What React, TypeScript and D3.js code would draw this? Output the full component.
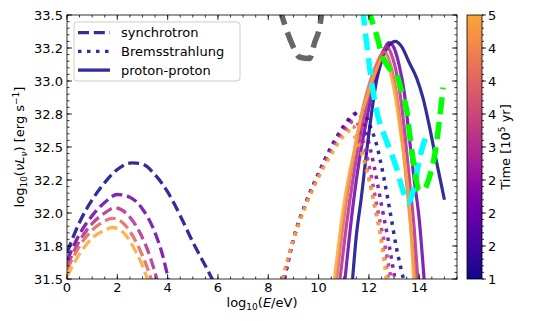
import React from 'react';
import * as d3 from 'd3';

// chart size
const W = 549;
const H = 321;
const plot = { left: 67, right: 457, top: 15, bottom: 279 };
const cbar = { x: 467, w: 15 };

// times of the snapshots [10^5 yr]
const times = [1, 2, 3, 4, 5];

// synchrotron, log10(E/eV) vs log10(nu L_nu)
const syncCurves: [number, number][][] = [
  [[0, 31.7], [0.5, 31.93], [1, 32.1], [1.5, 32.23], [2, 32.33], [2.6, 32.38], [3, 32.37], [3.5, 32.29], [4, 32.16], [4.5, 31.98], [5, 31.78], [5.5, 31.6], [5.85, 31.47]],
  [[0, 31.64], [0.5, 31.84], [1, 31.98], [1.5, 32.08], [2, 32.14], [2.5, 32.12], [3, 32.03], [3.5, 31.85], [3.8, 31.68], [4.05, 31.48]],
  [[0, 31.6], [0.5, 31.79], [1, 31.92], [1.5, 32.0], [1.9, 32.04], [2.4, 31.99], [2.9, 31.85], [3.3, 31.67], [3.6, 31.48]],
  [[0, 31.57], [0.5, 31.75], [1, 31.87], [1.5, 31.94], [1.8, 31.96], [2.3, 31.91], [2.8, 31.76], [3.2, 31.58], [3.4, 31.47]],
  [[0, 31.52], [0.5, 31.69], [1, 31.81], [1.5, 31.87], [1.8, 31.89], [2.3, 31.84], [2.7, 31.72], [3.0, 31.6], [3.25, 31.47]],
];

// Bremsstrahlung
const bremCurves: [number, number][][] = [
  [[8.65, 31.5], [9, 31.8], [9.5, 32.08], [10, 32.3], [10.5, 32.5], [11, 32.65], [11.4, 32.74], [11.75, 32.78], [12.0, 32.68], [12.3, 32.52], [12.6, 32.26], [12.85, 32.0], [13.1, 31.73], [13.4, 31.48]],
  [[8.62, 31.5], [9, 31.8], [9.5, 32.08], [10, 32.3], [10.5, 32.5], [11, 32.66], [11.4, 32.75], [11.6, 32.76], [11.9, 32.6], [12.2, 32.36], [12.5, 32.06], [12.8, 31.76], [13.05, 31.48]],
  [[8.6, 31.5], [9, 31.8], [9.5, 32.07], [10, 32.29], [10.5, 32.48], [11, 32.63], [11.45, 32.7], [11.75, 32.56], [12.05, 32.32], [12.35, 32.02], [12.65, 31.74], [12.9, 31.48]],
  [[8.58, 31.5], [9, 31.8], [9.5, 32.07], [10, 32.28], [10.5, 32.46], [11, 32.6], [11.35, 32.66], [11.65, 32.52], [12.0, 32.26], [12.3, 31.98], [12.6, 31.7], [12.8, 31.48]],
  [[8.55, 31.5], [9, 31.8], [9.5, 32.06], [10, 32.27], [10.5, 32.44], [10.9, 32.56], [11.25, 32.62], [11.5, 32.55], [11.76, 32.42], [12.0, 32.25], [12.2, 32.1], [12.4, 31.9], [12.55, 31.7], [12.7, 31.48]],
];

// proton-proton
const ppCurves: [number, number][][] = [
  [[11.35, 31.5], [11.5, 31.83], [11.7, 32.12], [11.9, 32.45], [12.1, 32.75], [12.3, 33.0], [12.5, 33.15], [12.8, 33.27], [13.05, 33.3], [13.3, 33.26], [13.6, 33.14], [13.9, 33.02], [14.15, 32.87], [14.4, 32.66], [14.65, 32.42], [14.85, 32.24], [15.0, 32.1]],
  [[11.05, 31.5], [11.3, 31.95], [11.6, 32.38], [11.9, 32.7], [12.2, 32.98], [12.5, 33.18], [12.8, 33.29], [13.0, 33.25], [13.2, 33.12], [13.4, 32.92], [13.6, 32.58], [13.8, 32.25], [14.0, 31.95], [14.2, 31.48]],
  [[10.85, 31.5], [11.1, 31.9], [11.4, 32.3], [11.7, 32.63], [12.0, 32.9], [12.3, 33.1], [12.6, 33.24], [12.7, 33.26], [12.95, 33.17], [13.2, 32.95], [13.4, 32.65], [13.6, 32.27], [13.8, 31.88], [13.95, 31.48]],
  [[10.72, 31.5], [11.0, 31.95], [11.3, 32.33], [11.6, 32.65], [11.9, 32.9], [12.2, 33.08], [12.5, 33.2], [12.62, 33.22], [12.85, 33.13], [13.1, 32.9], [13.3, 32.6], [13.5, 32.22], [13.7, 31.82], [13.85, 31.48]],
  [[10.63, 31.5], [10.97, 32.02], [11.2, 32.28], [11.43, 32.48], [11.63, 32.68], [11.96, 32.9], [12.29, 33.08], [12.55, 33.18], [12.8, 33.1], [13.05, 32.88], [13.3, 32.55], [13.55, 32.18], [13.68, 31.85], [13.78, 31.48]],
];

// reference sensitivity-like curves
const greyCurve: [number, number][] = [[8.45, 33.55], [8.72, 33.39], [8.92, 33.29], [9.25, 33.18], [9.64, 33.17], [9.84, 33.29], [10.04, 33.41], [10.15, 33.55]];
const cyanCurve: [number, number][] = [[11.75, 33.55], [11.9, 33.3], [12.1, 33.0], [12.3, 32.78], [12.69, 32.55], [13.08, 32.35], [13.35, 32.17], [13.55, 32.08], [13.8, 32.2], [14.0, 32.4], [14.3, 32.6]];
const greenCurve: [number, number][] = [[11.95, 33.55], [12.3, 33.35], [12.55, 33.18], [12.8, 33.1], [13.1, 33.05], [13.3, 32.92], [13.5, 32.78], [13.65, 32.55], [13.8, 32.35], [14.0, 32.17], [14.2, 32.18], [14.4, 32.27], [14.65, 32.48], [14.8, 32.7], [14.95, 32.95]];

const xTicks = [0, 2, 4, 6, 8, 10, 12, 14];
const yTicks = [31.5, 31.75, 32.0, 32.25, 32.5, 32.75, 33.0, 33.25, 33.5];
const yTickLabels = ['31.5', '31.8', '32.0', '32.2', '32.5', '32.8', '33.0', '33.2', '33.5'];
const cTicks = [1, 1.5, 2, 2.5, 3, 3.5, 4, 4.5, 5];
const cTickLabels = ['1', '2', '2', '2', '3', '4', '4', '4', '5'];

const SYNC_DASH = '11,4.8';
const BREM_DASH = '3.5,5.5';

const legendItems = [
  { label: 'synchrotron', dash: SYNC_DASH },
  { label: 'Bremsstrahlung', dash: BREM_DASH },
  { label: 'proton-proton', dash: null },
];

const FONT = 'DejaVu Sans, sans-serif';

const x = d3.scaleLinear().domain([0, 15.5]).range([plot.left, plot.right]);
const y = d3.scaleLinear().domain([31.5, 33.5]).range([plot.bottom, plot.top]);
const cy = d3.scaleLinear().domain([1, 5]).range([plot.bottom, plot.top]);
const cmap = (t: number) => d3.interpolatePlasma(0.8 * (t - 1) / 4);

const line = d3.line<[number, number]>()
  .x(d => x(d[0]))
  .y(d => y(d[1]))
  .curve(d3.curveMonotoneX);

export default function App() {
  const xMinor = d3.range(0, 15.51, 0.5);
  const yMinor = d3.range(31.5, 33.501, 0.05);
  const cMinor = d3.range(1, 5.001, 0.1);
  const navy = cmap(1);

  return (
    <svg width={W} height={H} style={{ position: 'absolute', left: 0, top: 0 }} fontFamily={FONT}>
      <defs>
        <clipPath id="plotclip">
          <rect x={plot.left} y={plot.top} width={plot.right - plot.left} height={plot.bottom - plot.top} />
        </clipPath>
        <linearGradient id="cgrad" x1="0" y1="1" x2="0" y2="0">
          {d3.range(0, 1.001, 0.05).map(f => (
            <stop key={f} offset={f} stopColor={d3.interpolatePlasma(0.8 * f)} />
          ))}
        </linearGradient>
      </defs>
      <rect width={W} height={H} fill="white" />

      <g clipPath="url(#plotclip)" fill="none">
        {times.map((t, i) => (
          <g key={t} stroke={cmap(t)} strokeOpacity={0.85}>
            <path d={line(syncCurves[i]) || ''} strokeWidth={3.3} strokeDasharray={SYNC_DASH} />
            <path d={line(bremCurves[i]) || ''} strokeWidth={3.5} strokeDasharray={BREM_DASH} />
            <path d={line(ppCurves[i]) || ''} strokeWidth={3.2} />
          </g>
        ))}
        <path d={line(greyCurve) || ''} stroke="#666666" strokeWidth={5.5} strokeDasharray="17,8" />
        <path d={line(cyanCurve) || ''} stroke="#00ffff" strokeWidth={5.5} strokeDasharray="17,8" />
        <path d={line(greenCurve) || ''} stroke="#00ff00" strokeWidth={5.5} strokeDasharray="17,8" />
      </g>

      {/* frame and ticks */}
      <g stroke="black" strokeWidth={0.8}>
        {xMinor.map(v => (
          <g key={'xm' + v}>
            <line x1={x(v)} x2={x(v)} y1={plot.bottom} y2={plot.bottom - 2.5} />
            <line x1={x(v)} x2={x(v)} y1={plot.top} y2={plot.top + 2.5} />
          </g>
        ))}
        {xTicks.map(v => (
          <g key={'xM' + v}>
            <line x1={x(v)} x2={x(v)} y1={plot.bottom} y2={plot.bottom - 5} />
            <line x1={x(v)} x2={x(v)} y1={plot.top} y2={plot.top + 5} />
          </g>
        ))}
        {yMinor.map(v => (
          <g key={'ym' + v}>
            <line x1={plot.left} x2={plot.left + 2.5} y1={y(v)} y2={y(v)} />
            <line x1={plot.right} x2={plot.right - 2.5} y1={y(v)} y2={y(v)} />
          </g>
        ))}
        {yTicks.map(v => (
          <g key={'yM' + v}>
            <line x1={plot.left} x2={plot.left + 5} y1={y(v)} y2={y(v)} />
            <line x1={plot.right} x2={plot.right - 5} y1={y(v)} y2={y(v)} />
          </g>
        ))}
        <rect x={plot.left} y={plot.top} width={plot.right - plot.left} height={plot.bottom - plot.top} fill="none" />
      </g>

      <g fontSize={13} fill="black">
        {xTicks.map(v => (
          <text key={'xl' + v} x={x(v)} y={plot.bottom + 13} textAnchor="middle">{v}</text>
        ))}
        {yTicks.map((v, i) => (
          <text key={'yl' + v} x={plot.left - 4} y={y(v) + 4.5} textAnchor="end">{yTickLabels[i]}</text>
        ))}
        <text x={(plot.left + plot.right) / 2} y={307} textAnchor="middle">
          log<tspan fontSize={9} dy={3}>10</tspan><tspan dy={-3}>(</tspan><tspan fontStyle="italic">E</tspan>/eV)
        </text>
        <text transform={`translate(24,${(plot.top + plot.bottom) / 2}) rotate(-90)`} textAnchor="middle">
          log<tspan fontSize={9} dy={3}>10</tspan><tspan dy={-3}>(</tspan><tspan fontStyle="italic">νL</tspan><tspan fontSize={9} dy={3} fontStyle="italic">ν</tspan><tspan dy={-3}>) [erg s</tspan><tspan fontSize={9} dy={-5}>−1</tspan><tspan dy={5}>]</tspan>
        </text>
      </g>

      {/* legend */}
      <g>
        <rect x={74} y={22} width={166} height={59} rx={3} fill="white" fillOpacity={0.8} stroke="#cccccc" />
        {legendItems.map((d, i) => (
          <g key={d.label} transform={`translate(0,${32.7 + i * 18.7})`}>
            <line x1={78} x2={110} y1={0} y2={0} stroke={navy} strokeOpacity={0.85} strokeWidth={3.3} strokeDasharray={d.dash || undefined} />
            <text x={121} y={4.5} fontSize={13}>{d.label}</text>
          </g>
        ))}
      </g>

      {/* colorbar */}
      <rect x={cbar.x} y={plot.top} width={cbar.w} height={plot.bottom - plot.top} fill="url(#cgrad)" stroke="black" strokeWidth={0.8} />
      <g stroke="black" strokeWidth={0.8}>
        {cMinor.map(v => (
          <line key={'cm' + v} x1={cbar.x + cbar.w} x2={cbar.x + cbar.w + 2} y1={cy(v)} y2={cy(v)} />
        ))}
        {cTicks.map(v => (
          <line key={'cM' + v} x1={cbar.x + cbar.w} x2={cbar.x + cbar.w + 4} y1={cy(v)} y2={cy(v)} />
        ))}
      </g>
      <g fontSize={13}>
        {cTicks.map((v, i) => (
          <text key={'cl' + v} x={cbar.x + cbar.w + 6} y={cy(v) + 4.5}>{cTickLabels[i]}</text>
        ))}
        <text transform={`translate(510,${(plot.top + plot.bottom) / 2}) rotate(-90)`} textAnchor="middle">
          Time [10<tspan fontSize={9} dy={-5}>5</tspan><tspan dy={5}> yr]</tspan>
        </text>
      </g>
    </svg>
  );
}
